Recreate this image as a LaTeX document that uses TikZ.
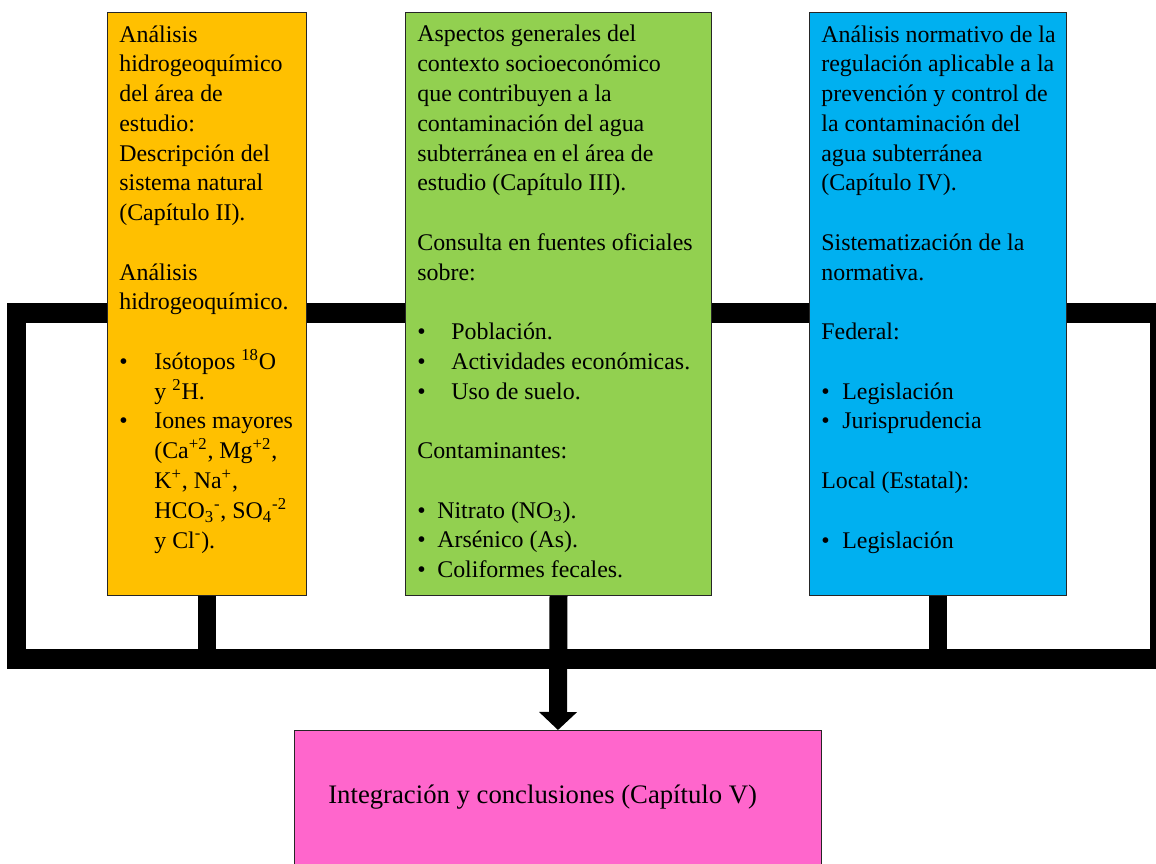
\documentclass[tikz,border=0pt]{standalone}
\usepackage{fontspec}
\setmainfont{Liberation Serif}
\usetikzlibrary{arrows.meta}
\definecolor{naranja}{HTML}{FFC000}
\definecolor{verde}{HTML}{92D050}
\definecolor{azul}{HTML}{00B0F0}
\definecolor{rosa}{HTML}{FF66CC}
\newcommand{\vineta}[1]{\makebox[#1][l]{\textbullet}}
\newcommand{\blanco}{\\[16.94pt]}

\begin{document}
\begin{tikzpicture}[x=0.02cm, y=-0.02cm,
  caja/.style={draw=black!85, line width=0.6pt, inner sep=0pt, anchor=north west},
  texto/.style={align=left, inner sep=0pt, anchor=base west, font=\fontsize{13.6}{16.94}\selectfont},
  barra/.style={line width=0.36cm}]
\useasboundingbox (0,0) rectangle (1156,863);
% marco de fondo
\draw[line width=0.4cm] (16.5,312.5) rectangle (1160,659);
\coordinate (bajo) at (0,659);
% cajas
\node[caja, fill=naranja, minimum width=3.98cm, minimum height=11.66cm] (hidro) at (107,12) {};
\node[caja, fill=verde, minimum width=6.12cm, minimum height=11.66cm] (socio) at (405,12) {};
\node[caja, fill=azul, minimum width=5.14cm, minimum height=11.66cm] (norma) at (809,12) {};
\node[caja, fill=rosa, minimum width=10.54cm, minimum height=3cm] (integra) at (294,730) {};
% textos (anclados en la linea base de la ultima linea)
\node[texto] (thidro) at (119,548) {Análisis\\hidrogeoquímico\\del área de\\estudio:\\Descripción del\\sistema natural\\(Capítulo II).\blanco
Análisis\\hidrogeoquímico.\blanco
\vineta{0.7cm}Isótopos \textsuperscript{18}O\\\hspace*{0.7cm}y \textsuperscript{2}H.\\
\vineta{0.7cm}Iones mayores\\\hspace*{0.7cm}(Ca\textsuperscript{+2}, Mg\textsuperscript{+2},\\\hspace*{0.7cm}K\textsuperscript{+}, Na\textsuperscript{+},\\
\hspace*{0.7cm}HCO\textsubscript{3}\textsuperscript{-}, SO\textsubscript{4}\textsuperscript{-2}\\\hspace*{0.7cm}y Cl\textsuperscript{-}).};
\node[texto] (tsocio) at (417,577.7) {Aspectos generales del\\contexto socioeconómico\\que contribuyen a la\\contaminación del agua\\subterránea en el área de\\estudio (Capítulo III).\blanco
Consulta en fuentes oficiales\\sobre:\blanco
\vineta{0.68cm}Población.\\\vineta{0.68cm}Actividades económicas.\\\vineta{0.68cm}Uso de suelo.\blanco
Contaminantes:\blanco
\vineta{0.4cm}Nitrato (NO\textsubscript{3}).\\\vineta{0.4cm}Arsénico (As).\\\vineta{0.4cm}Coliformes fecales.};
\node[texto] (tnorma) at (821,548) {Análisis normativo de la\\regulación aplicable a la\\prevención y control de\\la contaminación del\\agua subterránea\\(Capítulo IV).\blanco
Sistematización de la\\normativa.\blanco
Federal:\blanco
\vineta{0.42cm}Legislación\\\vineta{0.42cm}Jurisprudencia\blanco
Local (Estatal):\blanco
\vineta{0.42cm}Legislación};
\node[anchor=base west, inner sep=0pt, font=\fontsize{15.2}{18}\selectfont] (tintegra) at (328,803) {Integración y conclusiones (Capítulo V)};
% conectores
\draw[barra] (hidro.south) -- (hidro.south |- bajo);
\draw[barra] (norma.south) -- (norma.south |- bajo);
\draw[barra, -{Triangle[width=0.74cm, length=0.36cm]}] (socio.south) -- (integra.north);
\end{tikzpicture}
\end{document}
